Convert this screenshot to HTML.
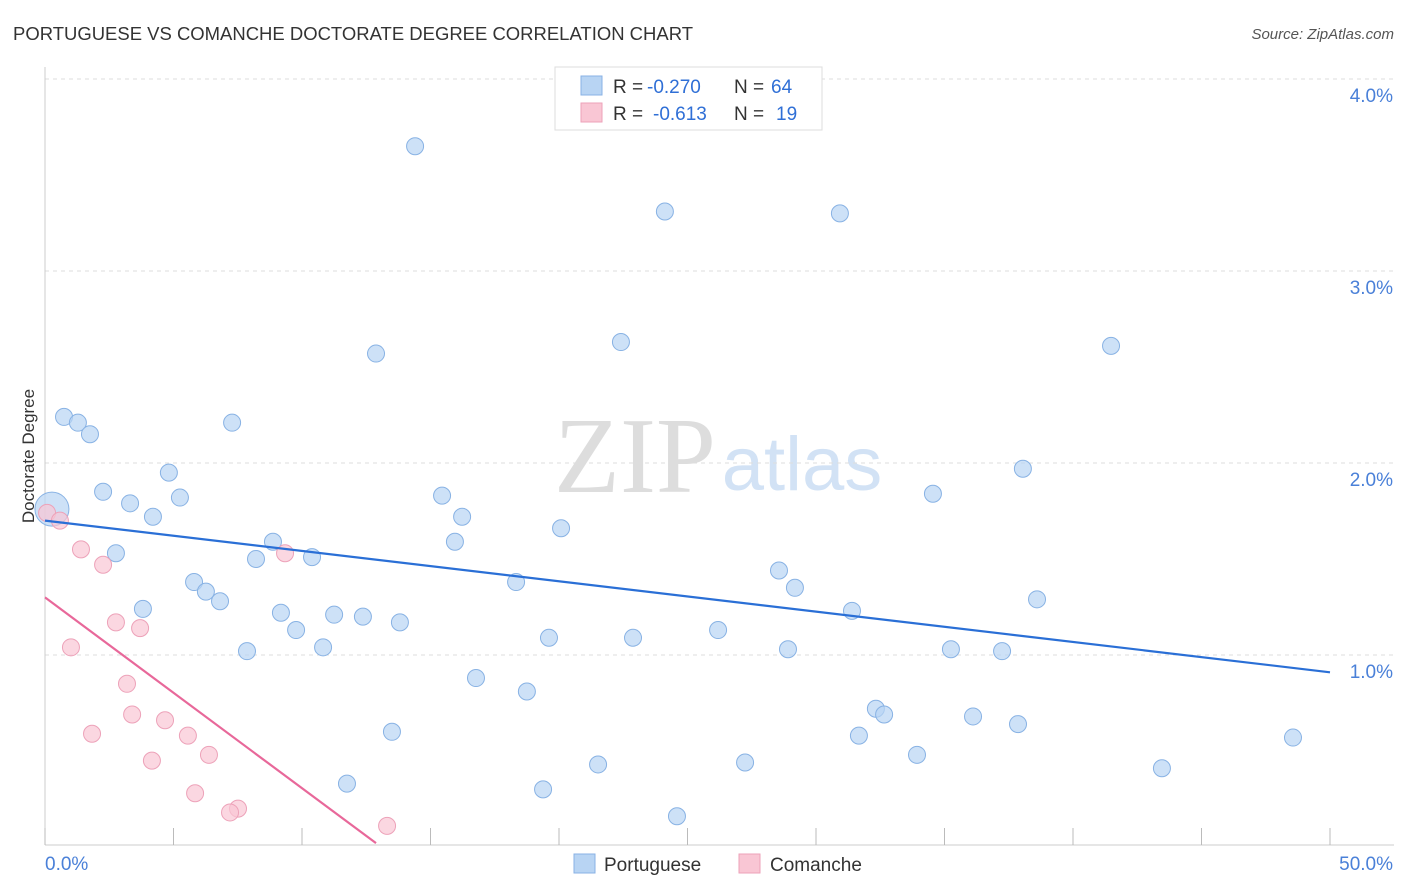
<!DOCTYPE html>
<html><head><meta charset="utf-8">
<style>
html,body{margin:0;padding:0;background:#fff;}
svg{display:block;font-family:"Liberation Sans",sans-serif;}
</style></head>
<body>
<svg id="chart" width="1406" height="892" viewBox="0 0 1406 892">
<text x="13" y="40" font-size="18" fill="#333" textLength="680" lengthAdjust="spacingAndGlyphs">PORTUGUESE VS COMANCHE DOCTORATE DEGREE CORRELATION CHART</text>
<text x="1394" y="39" font-size="15" fill="#555" font-style="italic" text-anchor="end">Source: ZipAtlas.com</text>
<g>
<text x="635" y="492" font-size="108" fill="#ddd" font-family="Liberation Serif,serif" text-anchor="middle">ZIP</text>
<text x="802" y="490" font-size="76" fill="#d2e2f5" text-anchor="middle">atlas</text>
</g>
<g id="grid"></g>
<g id="axes"></g>
<g id="marks"></g>
<text transform="translate(34,456) rotate(-90)" font-size="17" fill="#333" text-anchor="middle">Doctorate Degree</text>
<g>
<rect x="555" y="67" width="267" height="63" fill="#fff" stroke="#ddd"/>
<rect x="581" y="76" width="21" height="19" fill="#b8d4f3" stroke="#88b2e4"/>
<rect x="581" y="103" width="21" height="19" fill="#f9c6d4" stroke="#eda2b9"/>
<g font-size="19" fill="#333">
<text x="613" y="93">R =</text><text x="647" y="93" fill="#2f6fd6">-0.270</text>
<text x="734" y="93">N =</text><text x="771" y="93" fill="#2f6fd6">64</text>
<text x="613" y="120">R =</text><text x="653" y="120" fill="#2f6fd6">-0.613</text>
<text x="734" y="120">N =</text><text x="776" y="120" fill="#2f6fd6">19</text>
</g>
</g>
<g>
<rect x="574" y="854" width="21" height="19" fill="#b8d4f3" stroke="#88b2e4"/>
<text x="604" y="871" font-size="19" fill="#333">Portuguese</text>
<rect x="739" y="854" width="21" height="19" fill="#f9c6d4" stroke="#eda2b9"/>
<text x="770" y="871" font-size="19" fill="#333">Comanche</text>
</g>
</svg>
<script>
const xTicks=[0,5,10,15,20,25,30,35,40,45,50];
const yTicks=[1,2,3,4];
const yTickLabels=["1.0%","2.0%","3.0%","4.0%"];
const xAxisLabels=["0.0%","50.0%"];
const blueX=[14.40,24.12,30.93,12.88,22.41,41.48,0.74,1.28,1.75,7.28,4.82,38.05,2.26,5.25,15.45,34.55,3.31,4.20,16.23,20.08,8.87,15.95,2.76,8.21,10.39,28.56,5.80,18.33,29.18,6.26,6.81,38.60,3.81,9.18,11.25,12.37,31.40,13.81,9.77,19.61,22.88,26.19,7.86,10.82,28.91,35.25,37.24,16.77,18.75,32.33,32.65,36.11,37.86,13.50,31.67,48.56,33.93,21.52,27.24,43.46,11.75,19.38,24.59,0.27];
const blueY=[3.65,3.31,3.30,2.57,2.63,2.61,2.24,2.21,2.15,2.21,1.95,1.97,1.85,1.82,1.83,1.84,1.79,1.72,1.72,1.66,1.59,1.59,1.53,1.50,1.51,1.44,1.38,1.38,1.35,1.33,1.28,1.29,1.24,1.22,1.21,1.20,1.23,1.17,1.13,1.09,1.09,1.13,1.02,1.04,1.03,1.03,1.02,0.88,0.81,0.72,0.69,0.68,0.64,0.60,0.58,0.57,0.48,0.43,0.44,0.41,0.33,0.30,0.16,1.76];
const blueBig=[63];
const pinkX=[0.08,0.58,1.40,2.26,9.34,2.76,3.70,1.01,3.19,3.39,4.67,1.83,5.56,6.38,4.16,5.84,7.51,7.20,13.31];
const pinkY=[1.74,1.70,1.55,1.47,1.53,1.17,1.14,1.04,0.85,0.69,0.66,0.59,0.58,0.48,0.45,0.28,0.20,0.18,0.11];
const blueTrend=[1.70,0.91];
const pinkTrend=[1.30,0.02,12.88];

const X0=45,X1=1330,Y0=847,PPU=192;
const sx=v=>X0+(v/50)*(X1-X0);
const sy=v=>Y0-v*PPU;
const NS="http://www.w3.org/2000/svg";
function mk(tag,attrs,parent){const e=document.createElementNS(NS,tag);for(const k in attrs)e.setAttribute(k,attrs[k]);parent.appendChild(e);return e;}
const grid=document.getElementById('grid'),axes=document.getElementById('axes'),marks=document.getElementById('marks');
yTicks.forEach((t,i)=>{
 const l=mk('line',{x1:45,x2:1394,y1:sy(t),y2:sy(t),stroke:'#ddd','stroke-dasharray':'4,4'},grid);
 
 
 const tx=mk('text',{x:1393,y:sy(t)+23,'font-size':19,fill:'#4a80d8','text-anchor':'end'},axes);
 tx.textContent=yTickLabels[i];
 
 
});
const ya=mk('line',{x1:45,x2:45,y1:67,y2:845,stroke:'#ccc'},axes);


const xa=mk('line',{x1:45,x2:1394,y1:845,y2:845,stroke:'#ccc'},axes);


xTicks.forEach(t=>{
 const l=mk('line',{x1:sx(t),x2:sx(t),y1:828,y2:845,stroke:'#bbb'},axes);
 
 
});
const xl0=mk('text',{x:45,y:870,'font-size':19,fill:'#4a80d8'},axes);
xl0.textContent=xAxisLabels[0];


const xl1=mk('text',{x:1393,y:870,'font-size':19,fill:'#4a80d8','text-anchor':'end'},axes);
xl1.textContent=xAxisLabels[1];



blueX.forEach((v,i)=>{
 const big=blueBig.includes(i);
 const c=mk('circle',{cx:sx(v),cy:sy(blueY[i]),r:big?17:8.5,fill:'#b8d4f3','fill-opacity':0.7,stroke:'#88b2e4','stroke-width':1},marks);
 
 
});
pinkX.forEach((v,i)=>{
 const c=mk('circle',{cx:sx(v),cy:sy(pinkY[i]),r:8.5,fill:'#f9c6d4','fill-opacity':0.7,stroke:'#eda2b9','stroke-width':1},marks);
 
 
});
const bl=mk('line',{x1:sx(0),y1:sy(blueTrend[0]),x2:sx(50),y2:sy(blueTrend[1]),stroke:'#2a6fd6','stroke-width':2.2},marks);


const pl=mk('line',{x1:sx(0),y1:sy(pinkTrend[0]),x2:sx(pinkTrend[2]),y2:sy(pinkTrend[1]),stroke:'#e8689a','stroke-width':2.2},marks);


</script>
</body></html>
